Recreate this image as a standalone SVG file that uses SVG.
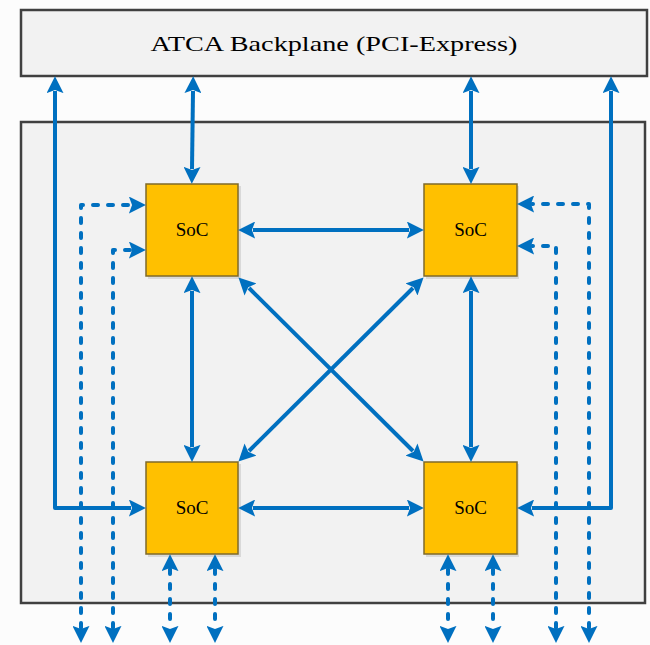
<svg xmlns="http://www.w3.org/2000/svg" width="650" height="645" viewBox="0 0 650 645">
<style>
.box{fill:#F2F2F2;stroke:#404040;stroke-width:2.5}
.soc{fill:#FFC000;stroke:#7F6A2A;stroke-width:1.5}
.sh{fill:#C8C8C8;opacity:0.6}
.lbl{font-family:"Liberation Serif","DejaVu Serif",serif;fill:#000;text-anchor:middle}
.c{fill:none;stroke:#0070C0;stroke-width:4;stroke-linejoin:round;marker-start:url(#ah);marker-end:url(#ah)}
.d{stroke-dasharray:5 10;stroke-linecap:round}
</style>
<defs>
<marker id="ah" viewBox="0 0 16 16" markerWidth="17" markerHeight="17" markerUnits="userSpaceOnUse" refX="2" refY="8" orient="auto-start-reverse">
<path d="M0,0 L16,8 L0,16 L3,8 z" fill="#0070C0"/>
</marker>
</defs>
<rect width="650" height="645" fill="#FCFCFC"/>
<g id="backplane">
<rect class="box" x="21" y="10" width="626" height="66"/>
<text class="lbl" x="334" y="51" font-size="22" textLength="367" lengthAdjust="spacingAndGlyphs">ATCA Backplane (PCI-Express)</text>
</g>
<g id="board">
<rect class="box" x="21" y="122" width="624" height="481"/>
</g>
<g id="soc-tl">
<rect class="sh" x="148" y="186" width="93" height="93"/>
<rect class="soc" x="146" y="184" width="92" height="92"/>
<text class="lbl" x="192" y="236" font-size="19">SoC</text>
</g>
<g id="soc-tr">
<rect class="sh" x="426" y="186" width="93" height="93"/>
<rect class="soc" x="424" y="184" width="93" height="92"/>
<text class="lbl" x="470.5" y="236" font-size="19">SoC</text>
</g>
<g id="soc-bl">
<rect class="sh" x="148" y="464" width="93" height="93"/>
<rect class="soc" x="146" y="462" width="92" height="92"/>
<text class="lbl" x="192" y="514" font-size="19">SoC</text>
</g>
<g id="soc-br">
<rect class="sh" x="426" y="464" width="93" height="93"/>
<rect class="soc" x="424" y="462" width="93" height="92"/>
<text class="lbl" x="470.5" y="514" font-size="19">SoC</text>
</g>
<g id="connectors">
<path class="c" d="M55,91 V508 H131"/>
<path class="c" d="M193,91 L192,169"/>
<path class="c" d="M471,91 V169"/>
<path class="c" d="M611,91 V508 H532"/>
<path class="c" d="M253,230 H409"/>
<path class="c" d="M253,508 H409"/>
<path class="c" d="M192,291 V447"/>
<path class="c" d="M471,291 V447"/>
<path class="c" d="M249,288 L413,451"/>
<path class="c" d="M413,288 L249,451"/>
<path class="c d" d="M81,628 V205 H131"/>
<path class="c d" d="M113,628 V250 H131"/>
<path class="c d" d="M170,569 V628"/>
<path class="c d" d="M215,569 V628"/>
<path class="c d" d="M448,569 V628"/>
<path class="c d" d="M493,569 V628"/>
<path class="c d" d="M589,628 V204 H532"/>
<path class="c d" d="M556,628 V246 H532"/>
</g>
</svg>
